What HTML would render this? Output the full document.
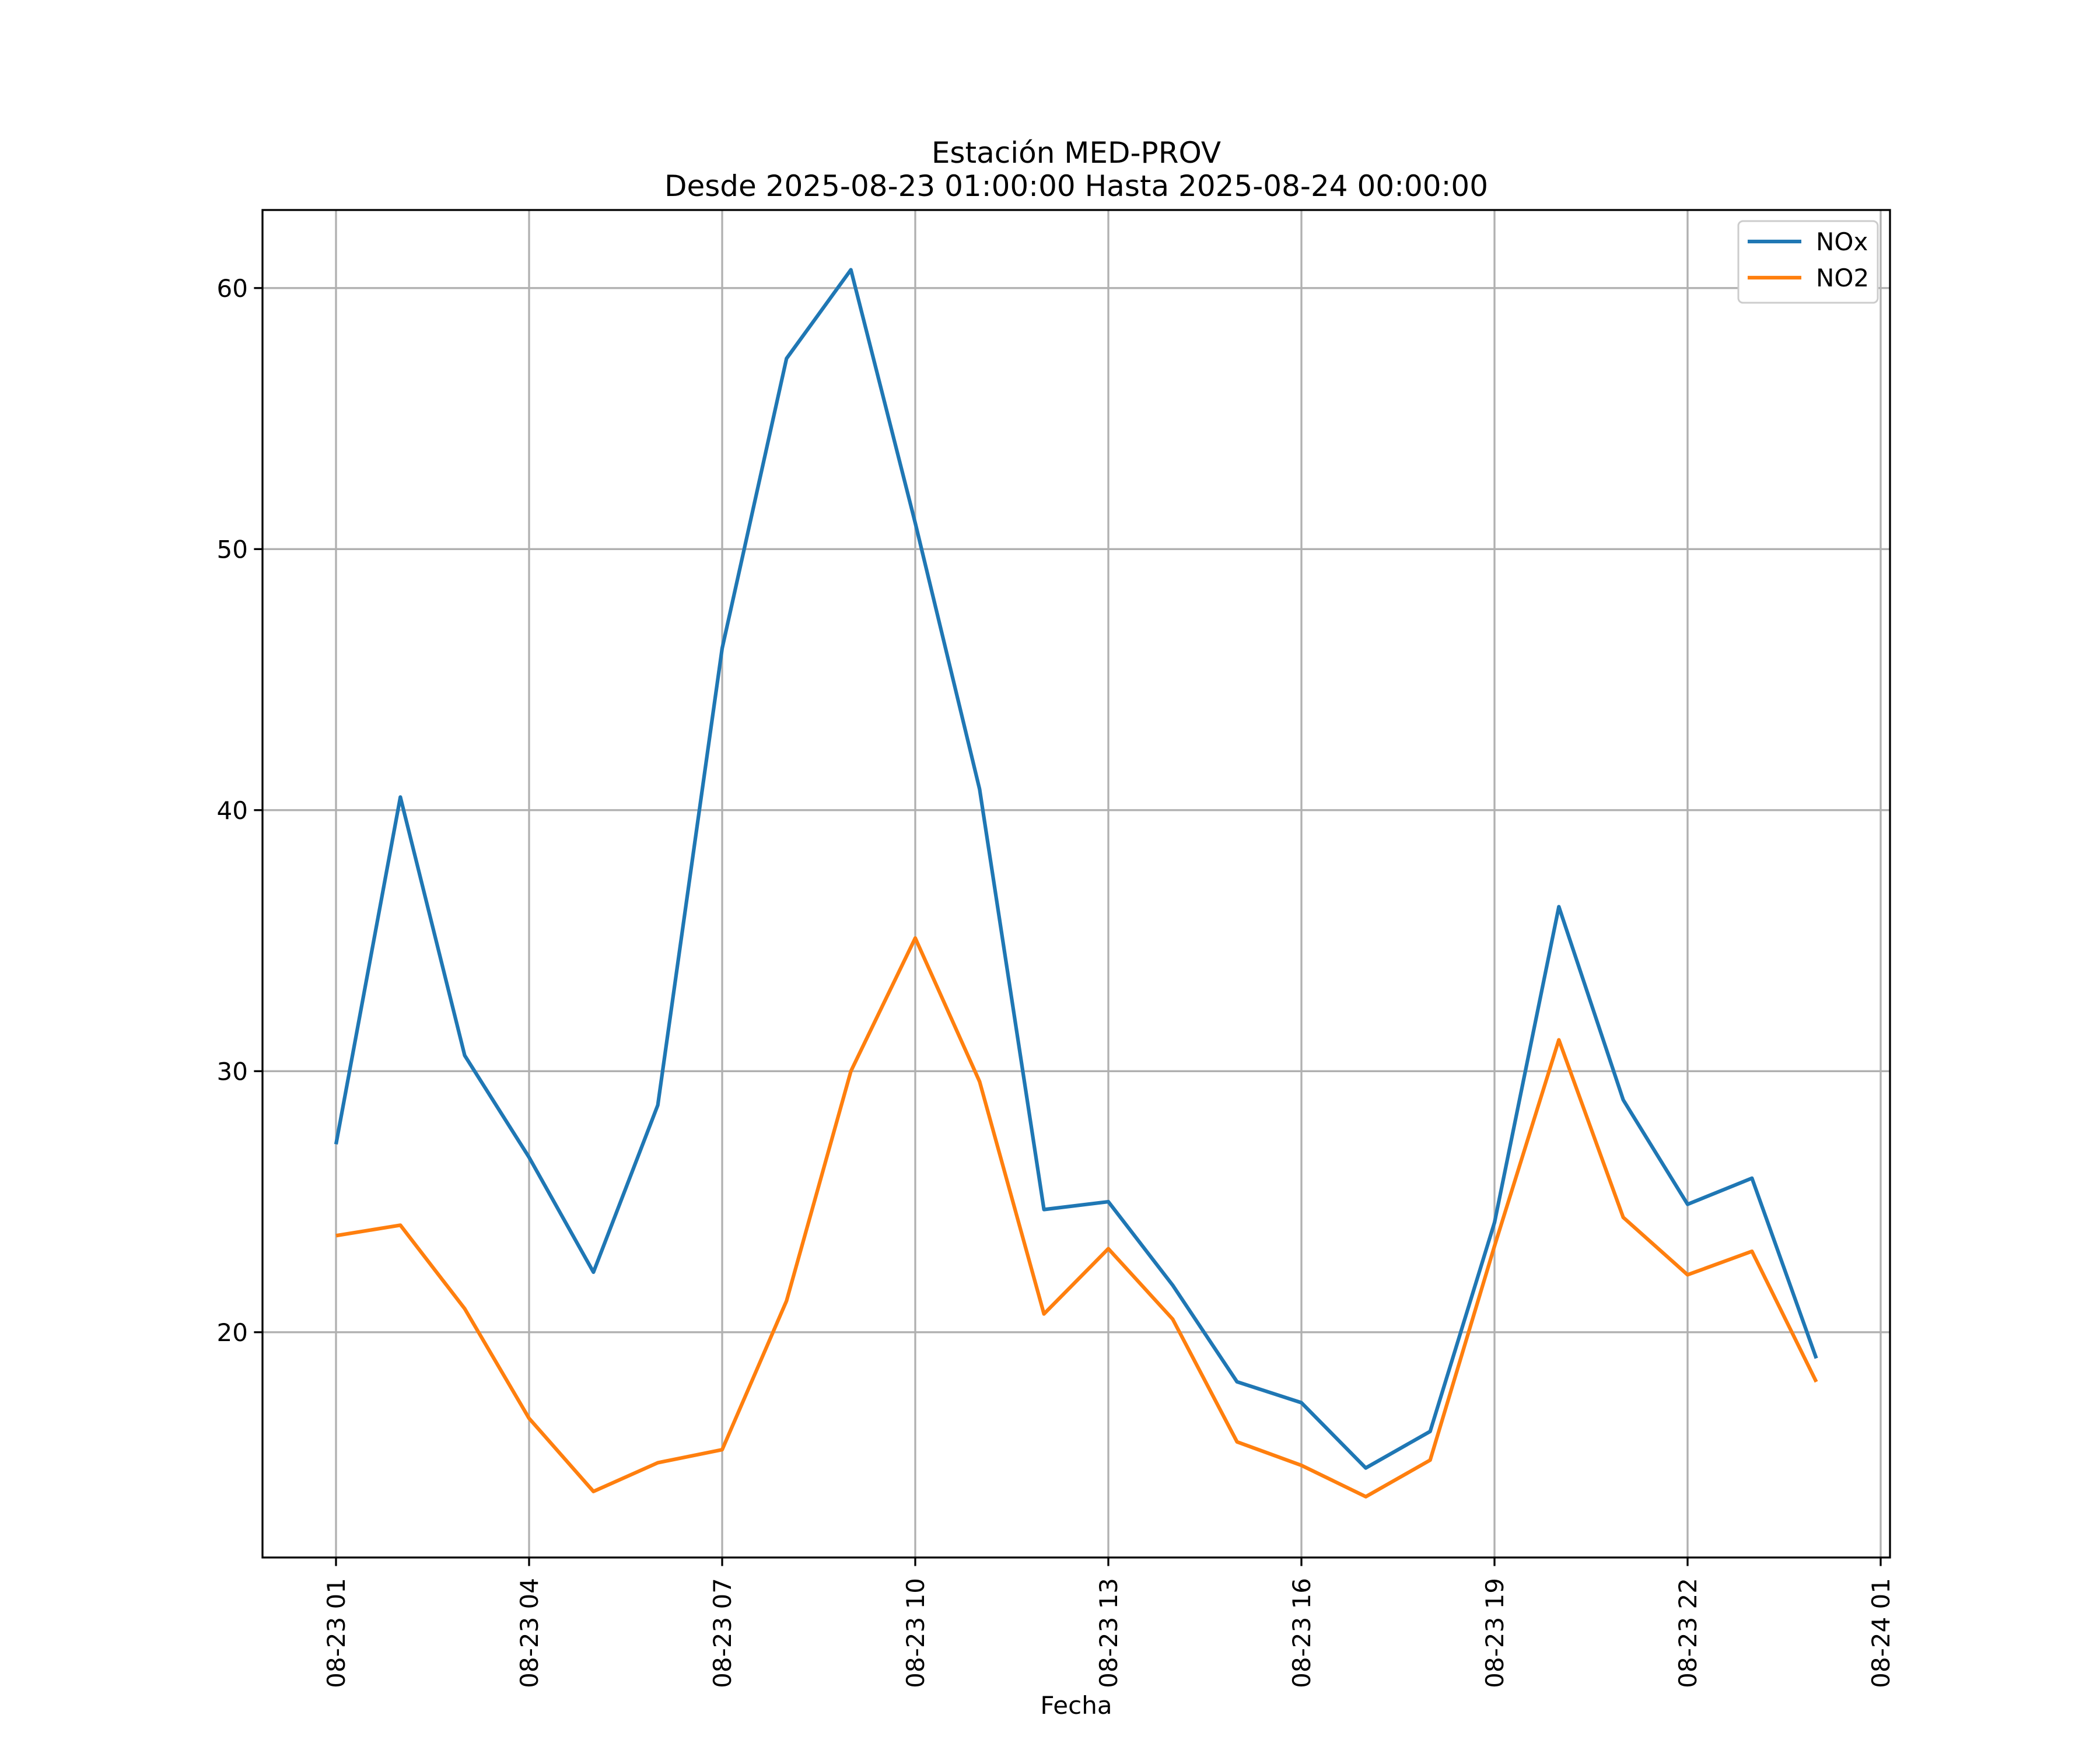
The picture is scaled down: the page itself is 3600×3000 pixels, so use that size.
<!DOCTYPE html>
<html><head><meta charset="utf-8"><style>
html,body{margin:0;padding:0;background:#fff;}
svg{display:block;font-family:"DejaVu Sans","Liberation Sans",sans-serif;}
</style></head><body>
<svg id="chart" width="3600" height="3000" xmlns="http://www.w3.org/2000/svg">
<rect width="3600" height="3000" fill="#fff"/>
<text x="1845" y="279" font-size="50" text-anchor="middle">Estación MED-PROV</text>
<text x="1845" y="336" font-size="50" text-anchor="middle">Desde 2025-08-23 01:00:00 Hasta 2025-08-24 00:00:00</text>
<g id="grid"></g><g id="axes"></g><g id="series"></g>
<text x="1845" y="2938" font-size="42" text-anchor="middle">Fecha</text>
<g>
<rect x="2980" y="379" width="239" height="140" rx="8" fill="#fff" stroke="#ccc" stroke-width="3"/>
<line x1="2996" x2="3088" y1="414" y2="414" stroke="#1f77b4" stroke-width="6.25"/>
<text x="3113" y="429" font-size="42">NOx</text>
<line x1="2996" x2="3088" y1="476" y2="476" stroke="#ff7f0e" stroke-width="6.25"/>
<text x="3113" y="491" font-size="42">NO2</text>
</g>
</svg>
<script>
const hours = [1,2,3,4,5,6,7,8,9,10,11,12,13,14,15,16,17,18,19,20,21,22,23,24];
const noxValues = [27.2,40.5,30.6,26.7,22.3,28.7,46.2,57.3,60.7,51.0,40.8,24.7,25.0,21.8,18.1,17.3,14.8,16.2,24.2,36.3,28.9,24.9,25.9,19.0];
const no2Values = [23.7,24.1,20.9,16.7,13.9,15.0,15.5,21.2,30.0,35.1,29.6,20.7,23.2,20.5,15.8,14.9,13.7,15.1,23.3,31.2,24.4,22.2,23.1,18.1];
const xTickHours = [1,4,7,10,13,16,19,22,25];
const xTickLabels = ["08-23 01","08-23 04","08-23 07","08-23 10","08-23 13","08-23 16","08-23 19","08-23 22","08-24 01"];
const yTicks = [20,30,40,50,60];

const L=450,R=3240,T=360,B=2670;
const yMin=11.37,yMax=62.99;
const x=h=>576+(h-1)*(3224-576)/24;
const y=v=>B-(v-yMin)/(yMax-yMin)*(B-T);
const NS="http://www.w3.org/2000/svg";
function mk(tag,attrs,parent){const e=document.createElementNS(NS,tag);for(const k in attrs)e.setAttribute(k,attrs[k]);parent.appendChild(e);return e;}
const grid=document.getElementById('grid'),axes=document.getElementById('axes'),series=document.getElementById('series');

xTickHours.forEach((h,i)=>{
  const gx=x(h);
  const gl=mk('line',{x1:gx,x2:gx,y1:T,y2:B,stroke:'#b0b0b0','stroke-width':3.3},grid);
  
  
  const tk=mk('line',{x1:gx,x2:gx,y1:B,y2:B+14.6,stroke:'#000','stroke-width':3.3},axes);
  
  
  const t=mk('text',{transform:`translate(${gx+15},2705) rotate(-90)`,'font-size':42,'text-anchor':'end'},axes);
  t.textContent=xTickLabels[i];
  
  
});
yTicks.forEach(v=>{
  const gy=y(v);
  const gl=mk('line',{x1:L,x2:R,y1:gy,y2:gy,stroke:'#b0b0b0','stroke-width':3.3},grid);
  
  
  const tk=mk('line',{x1:L-14.6,x2:L,y1:gy,y2:gy,stroke:'#000','stroke-width':3.3},axes);
  
  
  const t=mk('text',{x:L-25,y:gy+15,'font-size':42,'text-anchor':'end'},axes);
  t.textContent=v;
  
  
});
const frame=mk('rect',{x:L,y:T,width:R-L,height:B-T,fill:'none',stroke:'#000','stroke-width':3.3},axes);



const nox=mk('polyline',{points:hours.map((h,i)=>x(h)+','+y(noxValues[i])).join(' '),fill:'none',stroke:'#1f77b4','stroke-width':6.25,'stroke-linejoin':'round'},series);


const no2=mk('polyline',{points:hours.map((h,i)=>x(h)+','+y(no2Values[i])).join(' '),fill:'none',stroke:'#ff7f0e','stroke-width':6.25,'stroke-linejoin':'round'},series);


</script>
</body></html>
